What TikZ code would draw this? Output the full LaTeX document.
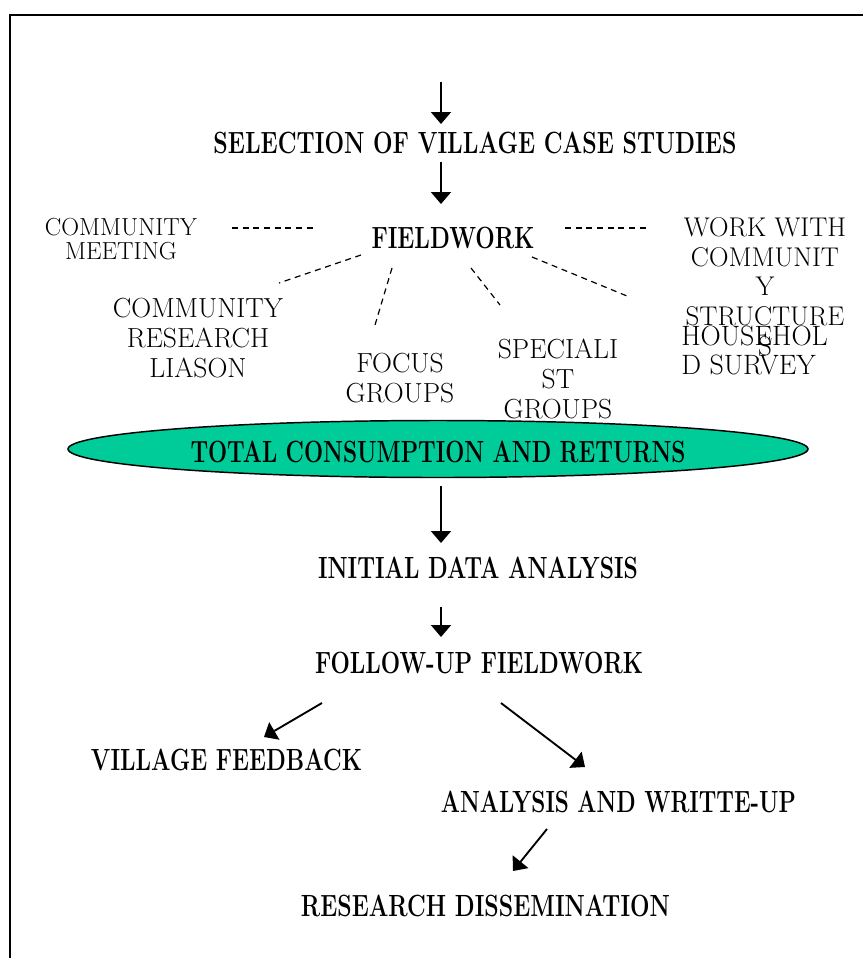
\documentclass[tikz,border=0pt]{standalone}
\usepackage{fontspec}
\usepackage{graphicx}
\usetikzlibrary{arrows.meta,shapes.geometric}
\definecolor{ovalgreen}{RGB}{0,204,153}
% bold heading squeezed to a given width (in pt), keeping its natural height
\newcommand{\fitbold}[2]{\resizebox{#1pt}{\height}{\bfseries #2}}
\tikzset{
  lbl/.style={font=\fontsize{20.7}{22.2}\selectfont, align=center, inner sep=0pt},
  smalllbl/.style={font=\fontsize{18.5}{18}\selectfont, align=center, inner sep=0pt},
  head/.style={font=\fontsize{23}{24}\selectfont, inner sep=0pt},
  flow/.style={line width=1.4pt, -{Triangle[width=15pt,length=9pt]}},
  link/.style={line width=0.9pt, dash pattern=on 4.5pt off 3.5pt},
  frameline/.style={line width=1.4pt},
}
\begin{document}
\begin{tikzpicture}[x=0.75pt,y=-0.75pt]
\useasboundingbox (0,0) rectangle (863,958);
% open frame (top and left edges)
\draw[frameline] (10,958) -- (10,15) -- (863,15);

% main sequence
\node[head] (sel) at (475,143) {\fitbold{392.25}{SELECTION OF VILLAGE CASE STUDIES}};
\node[head] (fw)  at (453,238) {\fitbold{122.25}{FIELDWORK}};
\node[draw, line width=1.1pt, fill=ovalgreen, ellipse, minimum width=555pt,
      minimum height=42.75pt, inner sep=0pt] (oval) at (438,449) {};
\node[head] (tcr) at (438,452) {\fitbold{371.25}{TOTAL CONSUMPTION AND RETURNS}};
\node[head] (ida) at (478,568) {\fitbold{240}{INITIAL DATA ANALYSIS}};
\node[head] (fuf) at (479,663) {\fitbold{246}{FOLLOW-UP FIELDWORK}};
\node[head] (vf)  at (226.5,760) {\fitbold{203.25}{VILLAGE FEEDBACK}};
\node[head] (awu) at (618.5,802) {\fitbold{266.25}{ANALYSIS AND WRITTE-UP}};
\node[head] (rd)  at (485.5,906) {\fitbold{276.75}{RESEARCH DISSEMINATION}};

% fieldwork activities
\node[smalllbl] (cm)  at (121,239) {COMMUNITY\\MEETING};
\node[lbl] (crl) at (198,338) {COMMUNITY\\RESEARCH\\LIASON};
\node[lbl] (fg)  at (400,378) {FOCUS\\GROUPS};
\node[lbl] (sg)  at (558,379) {SPECIALI\\ST\\GROUPS};
\node[lbl, font=\fontsize{20.3}{22.3}\selectfont] (wcs) at (765,286.5)
     {WORK WITH\\COMMUNIT\\Y\\STRUCTURE\\S};
\node[lbl, font=\fontsize{21}{22}\selectfont, align=left, anchor=west] (hs) at (681,350.5)
     {HOUSEHOL\\D SURVEY};

% arrow end points
\coordinate (a1s) at (441,82);  \coordinate (a1e) at (441,124);
\coordinate (a2s) at (441,162); \coordinate (a2e) at (441,204);
\coordinate (a3s) at (441,486); \coordinate (a3e) at (441,543);
\coordinate (a4s) at (441,607); \coordinate (a4e) at (441,637);
\coordinate (a5s) at (322,703); \coordinate (a5e) at (264,737);
\coordinate (a6s) at (501,703); \coordinate (a6e) at (585,767);
\coordinate (a7s) at (547,829); \coordinate (a7e) at (513,871);
\draw[flow] (a1s) -- (a1e);
\draw[flow] (a2s) -- (a2e);
\draw[flow] (a3s) -- (a3e);
\draw[flow] (a4s) -- (a4e);
\draw[flow] (a5s) -- (a5e);
\draw[flow] (a6s) -- (a6e);
\draw[flow] (a7s) -- (a7e);

% dashed links around FIELDWORK
\coordinate (l1s) at (232,228); \coordinate (l1e) at (315,228);
\coordinate (l2s) at (565,228); \coordinate (l2e) at (648,228);
\coordinate (l3s) at (361,255); \coordinate (l3e) at (279,283);
\coordinate (l4s) at (392,268); \coordinate (l4e) at (375,325);
\coordinate (l5s) at (471,268); \coordinate (l5e) at (500,305);
\coordinate (l6s) at (532,257); \coordinate (l6e) at (627,296);
\draw[link] (l1s) -- (l1e);
\draw[link] (l2s) -- (l2e);
\draw[link] (l3s) -- (l3e);
\draw[link] (l4s) -- (l4e);
\draw[link] (l5s) -- (l5e);
\draw[link] (l6s) -- (l6e);
\end{tikzpicture}
\end{document}
